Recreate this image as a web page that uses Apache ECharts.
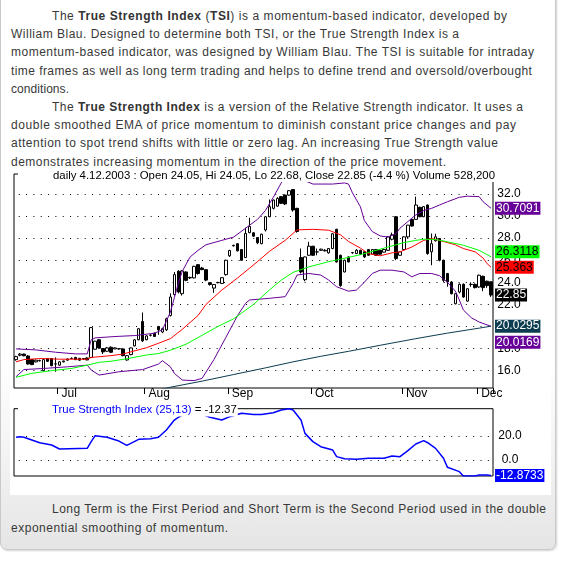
<!DOCTYPE html>
<html>
<head>
<meta charset="utf-8">
<script src="https://cdn.jsdelivr.net/npm/echarts@6.0.0/dist/echarts.min.js"></script>
<style>
  html, body { margin: 0; padding: 0; background: #fff; }
  body { width: 561px; height: 562px; position: relative; overflow: hidden; font-family: "Liberation Sans", Arial, sans-serif; }
  #box { position: absolute; left: 0; top: -10px; width: 554px; height: 558px; border: 1px solid #c9c9c9; border-radius: 0 0 7px 7px;
         background: linear-gradient(to bottom, #ffffff 0px, #ffffff 370px, #f2f2f2 470px, #e5e5e5 558px);
         box-shadow: 1px 1px 2px rgba(0,0,0,0.18); }
  #white { position: absolute; left: 10px; top: 164px; width: 541px; height: 331px; background: #fff; }
  .txt { position: absolute; left: 11px; font-size: 12px; line-height: 18.2px; color: #383838; white-space: nowrap; }
  .txt div.ind { padding-left: 41px; }
  .txt b { color: #333; }
  #chart { position: absolute; left: 0; top: 0; width: 561px; height: 562px; }
</style>
</head>
<body>
<div id="box"></div>
<div id="white"></div>
<div class="txt" style="top:6.9px">
  <div class="ind"><span data-end="507">The <b>True Strength Index</b> (<b>TSI</b>) is a momentum-based indicator, developed by</span></div>
  <div><span data-end="459">William Blau. Designed to determine both TSI, or the True Strength Index is a</span></div>
  <div><span data-end="534">momentum-based indicator, was designed by William Blau. The TSI is suitable for intraday</span></div>
  <div><span data-end="532">time frames as well as long term trading and helps to define trend and oversold/overbought</span></div>
  <div><span data-end="69">conditions.</span></div>
  <div class="ind"><span data-end="523">The <b>True Strength Index</b> is a version of the Relative Strength indicator. It uses a</span></div>
  <div><span data-end="516">double smoothed EMA of price momentum to diminish constant price changes and pay</span></div>
  <div><span data-end="498">attention to spot trend shifts with little or zero lag. An increasing True Strength value</span></div>
  <div><span data-end="446">demonstrates increasing momentum in the direction of the price movement.</span></div>
</div>
<div class="txt" style="top:500.1px; line-height:18.4px">
  <div class="ind"><span data-end="546">Long Term is the First Period and Short Term is the Second Period used in the double</span></div>
  <div><span data-end="228">exponential smoothing of momentum.</span></div>
</div>
<div id="chart"></div>
<script>
// fit paragraph lines to the reference line lengths
document.querySelectorAll('.txt span[data-end]').forEach(function (s) {
  const target = parseFloat(s.getAttribute('data-end'));
  const r = s.getBoundingClientRect();
  const n = s.textContent.length;
  if (n > 1) s.style.letterSpacing = ((target - r.right) / (n - 1)).toFixed(3) + 'px';
});

// ---------- data ----------
const monthTicks = ['Jan','Feb','Mar','Apr','May','Jun','Jul','Aug','Sep','Oct','Nov','Dec'];
const holidays = ['2003-07-04', '2003-09-01', '2003-11-27'];
const firstDay = '2003-06-16';
const lastDay = '2003-12-04';
const priceTicks = [16, 18, 20, 22, 24, 26, 28, 30, 32];
const tsiTicks = [0, 20];

// trading days
const dates = [];
(function () {
  let d = new Date(firstDay + 'T00:00:00Z');
  const end = new Date(lastDay + 'T00:00:00Z');
  while (d <= end) {
    const s = d.toISOString().slice(0, 10);
    const wd = d.getUTCDay();
    if (wd !== 0 && wd !== 6 && holidays.indexOf(s) < 0) dates.push(s);
    d = new Date(d.getTime() + 86400000);
  }
})();

// [open, close, low, high]
const candles = [
  [17.0,17.27,16.9,17.35],[17.4,17.5,17.3,17.6],[17.5,17.35,17.3,17.55],[17.33,16.6,16.55,17.4],[17.0,16.55,16.5,17.05],
  [16.8,16.95,16.75,17.0],[16.88,16.92,16.85,17.0],[16.0,17.0,15.95,17.05],[17.1,16.85,16.8,17.15],[17.1,16.45,16.4,17.15],
  [16.6,16.62,15.9,17.2],[16.5,16.8,16.45,16.85],[16.8,16.88,16.75,16.9],[16.95,17.05,16.9,17.1],[17.1,17.12,17.05,17.2],
  [17.2,17.0,16.95,17.25],[17.12,16.95,16.9,17.15],[17.05,17.1,16.97,17.12],[17.15,16.97,16.95,17.2],[17.2,19.9,17.15,19.95],
  [17.94,18.67,17.9,18.7],[18.8,18.06,18.0,18.85],[18.0,17.7,17.5,18.05],[17.76,18.06,17.7,18.15],[18.12,17.67,17.6,18.2],
  [17.97,18.06,17.95,18.1],[17.97,17.99,17.9,18.05],[17.97,17.36,17.3,18.0],[16.97,17.36,16.9,17.4],[17.45,18.06,17.4,18.1],
  [18.24,18.79,18.2,18.85],[18.8,19.8,18.75,19.85],[20.45,18.7,18.6,21.27],[18.8,19.15,18.75,19.2],[19.2,19.22,19.1,19.3],
  [19.4,19.1,19.05,19.45],[20.0,19.7,19.25,20.05],[19.5,19.8,19.4,19.9],[19.7,20.7,19.6,20.8],[21.0,22.67,20.9,23.0],
  [22.9,24.7,22.8,24.94],[25.0,23.12,23.0,25.1],[22.97,25.03,22.8,25.1],[24.94,24.18,24.1,25.0],[24.4,24.45,24.3,24.5],
  [24.4,25.45,24.35,25.5],[25.6,24.8,24.7,25.65],[25.3,25.15,25.1,25.4],[25.15,24.2,24.1,25.2],[23.97,23.8,23.7,24.0],
  [23.48,23.8,23.05,23.85],[23.97,23.99,23.9,24.05],[23.9,24.42,23.85,24.45],[24.7,26.0,24.6,26.05],[26.4,26.88,26.3,26.95],
  [27.3,27.35,27.25,27.4],[27.5,26.85,26.8,27.55],[26.97,26.0,25.95,27.0],[26.24,28.42,26.2,28.94],[28.5,29.06,28.45,29.85],
  [28.48,28.18,28.1,28.55],[28.06,27.58,27.45,28.1],[27.5,28.36,27.45,28.4],[28.74,29.94,28.6,30.0],[29.94,30.85,29.9,31.5],
  [30.7,31.45,30.6,31.5],[30.9,31.6,30.85,31.7],[31.76,31.15,31.1,31.8],[31.9,31.1,31.0,31.95],[31.9,32.3,31.85,32.35],
  [32.4,30.55,30.4,32.45],[30.7,28.6,28.5,30.75],[26.24,24.94,24.8,27.06],[24.24,26.3,24.1,26.35],[26.45,27.27,26.4,27.67],
  [27.27,26.45,26.4,27.3],[26.75,26.76,26.45,27.06],[26.9,27.0,26.85,27.05],[26.9,26.85,26.8,27.0],[26.67,27.06,26.6,27.1],
  [27.06,28.4,27.0,28.45],[28.8,25.85,25.8,28.85],[26.45,23.7,23.6,26.5],[24.94,26.0,24.9,26.05],[26.3,25.85,25.8,26.35],
  [26.67,26.7,26.6,26.75],[26.61,26.91,26.55,27.0],[26.9,26.55,26.5,26.95],[26.76,26.3,26.2,26.8],[26.97,26.45,26.4,27.0],
  [26.55,26.97,26.5,27.0],[26.97,26.45,26.4,27.0],[26.9,26.55,26.5,26.95],[26.73,26.97,26.7,27.06],[26.9,28.12,26.85,28.15],
  [27.9,28.3,27.8,28.5],[29.94,26.15,26.0,30.0],[26.45,26.76,26.4,26.8],[26.97,28.12,26.9,28.15],[28.12,29.18,28.0,29.2],
  [29.7,29.1,29.05,29.75],[29.7,31.0,29.65,31.76],[30.79,29.94,29.9,30.85],[29.94,30.85,29.9,30.9],[31.0,26.6,26.5,31.05],
  [26.76,27.5,25.55,28.42],[27.76,28.12,27.7,28.4],[27.97,26.0,25.9,28.0],[26.0,24.18,24.0,26.05],[24.8,24.03,23.6,24.85],
  [24.03,22.97,22.9,24.1],[22.06,22.97,22.0,23.0],[23.12,23.82,23.0,23.9],[23.82,22.67,22.6,23.9],[22.3,23.42,22.25,23.45],
  [23.8,23.82,23.6,24.0],[23.82,23.52,23.45,23.9],[23.58,24.64,23.5,24.7],[24.55,23.52,23.2,24.6],[24.1,23.7,23.5,24.15],
  [24.05,22.85,22.68,24.05]
];

// overlays: [dayIndex, value]
const bbUpper = [[0,17.97],[5,17.88],[10,17.67],[15,17.52],[18,17.52],[19,18.79],[20,18.97],[25,19.09],[30,19.18],[35,19.39],
  [37,19.7],[38,20.5],[39,21.3],[40,22.6],[41,23.9],[42,25.0],[44,26.3],[46,26.9],[48,27.4],[52,27.8],[55,28.1],[58,28.9],
  [61,29.7],[63,30.5],[65,31.7],[67,33.0],[69,34.1],[71,34.3],[73,33.2],[75,32.9],[80,32.9],[83,33.0],[84,32.9],[85,32.1],
  [87,30.85],[88,29.6],[90,28.6],[92,28.2],[94,28.1],[96,28.4],[97,28.9],[99,29.5],[101,30.1],[103,30.5],[105,30.7],
  [107,31.0],[109,31.3],[112,31.7],[114,31.8],[117,31.76],[118,31.3],[120,30.7091]];
const bbMiddle = [[0,16.8],[2,17.0],[6,17.1],[11,17.04],[18,17.04],[19,17.2],[24,17.36],[27,17.5],[29,17.7],[33,18.08],
  [36,18.48],[39,18.9],[42,19.74],[46,21.0],[48,22.0],[52,23.3],[56,24.4],[61,25.87],[64,26.8],[68,27.8],[71,28.75],
  [75,28.8],[79,28.72],[82,28.3],[84,27.7],[87,27.1],[89,26.6],[92,26.4],[95,26.67],[97,26.76],[100,27.2],[103,27.8],
  [105,27.97],[107,27.8],[111,27.4],[113,27.06],[116,26.76],[118,26.2],[119,25.7],[120,25.363]];
const bbLower = [[0,15.45],[2,16.1],[7,16.2],[13,16.35],[18,16.5],[19,16.06],[21,15.6],[26,15.9],[32,16.1],[36,16.6],
  [37,16.9],[39,16.35],[40,15.76],[42,15.15],[45,15.1],[47,15.3],[50,17.0],[53,19.0],[56,21.0],[58,22.1],[59,22.4],
  [64,22.55],[68,22.7],[70,23.9],[71,24.66],[74,24.8],[77,24.66],[79,24.2],[81,23.6],[84,23.2],[86,23.3],[88,24.0],
  [90,24.8],[92,25.1],[95,25.1],[98,24.94],[100,24.5],[102,24.8],[105,24.8],[107,24.6],[109,24.0],[111,23.2],[112,22.4],
  [113,21.5],[115,20.8],[117,20.4],[120,20.0169]];
const ma50 = [[0,15.4],[4,15.76],[9,16.0],[14,16.2],[18,16.5],[21,16.76],[24,16.85],[28,17.08],[33,17.42],[36,17.55],
  [39,17.85],[43,18.4],[47,19.2],[51,20.0],[55,20.7],[60,22.0],[64,23.3],[67,24.2],[70,24.9],[74,25.4],[79,25.87],
  [82,26.1],[87,26.5],[93,27.1],[96,27.4],[98,27.6],[101,27.8],[103,27.9],[106,27.88],[109,27.67],[113,27.36],
  [117,26.9],[120,26.3118]];
const ma200 = [[36,14.25],[39,14.5],[47,15.05],[55,15.65],[63,16.25],[70,16.8],[77,17.3],[84,17.75],[92,18.3],
  [101,18.9],[109,19.4],[117,19.85],[120,20.0295]];
const tsi = [[0,18.9],[1,19.4],[2,19.0],[4,16.7],[6,14.4],[9,12.5],[11,9.2],[18,9.7],[19,15.3],[20,20.3],[23,18.9],
  [26,15.8],[28,12.2],[31,17.2],[34,17.8],[36,18.9],[38,25.0],[40,33.3],[41,35.6],[43,39.0],[45,40.0],[47,38.0],
  [49,35.6],[52,33.3],[54,36.1],[57,38.9],[60,37.9],[62,37.9],[65,39.4],[67,41.7],[69,42.7],[70,41.7],[72,33.3],
  [73,22.2],[75,15.3],[77,11.1],[80,8.3],[81,2.8],[83,1.1],[86,0.6],[89,1.4],[93,1.4],[95,3.3],[97,2.8],[99,7.8],
  [101,13.3],[103,16.1],[104,14.4],[106,9.7],[108,1.4],[109,-6.1],[112,-9.7],[113,-13.3],[116,-13.3],[117,-12.5],
  [119,-12.5],[120,-12.8733]];
const chartTitle = 'daily 4.12.2003 : Open 24.05, Hi 24.05, Lo 22.68, Close 22.85 (-4.4 %) Volume 528,200';
const tsiTitle = 'True Strength Index (25,13)';
const tsiTitleValue = ' = -12.37';

// ---------- chart ----------
const lastIdx = dates.length - 1;
const isMonthStart = (i) => i > 0 && dates[i].slice(5, 7) !== dates[i - 1].slice(5, 7);
const FONT = '"Liberation Sans", Arial, sans-serif';

function endBox(value, bg, fg, dy) {
  return {
    symbol: 'rect', symbolSize: 0.01, silent: true, animation: false,
    data: [{ coord: [dates[lastIdx], value], value: value }],
    label: {
      show: true, position: 'right', distance: 4, formatter: String(value),
      backgroundColor: bg, color: fg, fontSize: 12, lineHeight: 12, fontFamily: FONT,
      padding: [1, 1, 0, 1], offset: [0, dy]
    }
  };
}
function lineSeries(name, data, color, dy, boxFg) {
  return {
    name: name, type: 'line', xAxisIndex: 0, yAxisIndex: 0, data: data,
    showSymbol: false, symbol: 'none', clip: true, silent: true,
    lineStyle: { color: color, width: 1 }, z: 3,
    markPoint: endBox(data[data.length - 1][1], color, boxFg, dy)
  };
}
const splitDots = { show: true, lineStyle: { color: '#000', width: 1, type: [1, 6.33], dashOffset: 2.6 } };

const chart = echarts.init(document.getElementById('chart'), null, { renderer: 'canvas' });
chart.setOption({
  animation: false,
  backgroundColor: 'transparent',
  textStyle: { fontFamily: FONT },
  title: [
    { text: chartTitle, left: 18, top: 169, backgroundColor: '#fff', padding: [0, 2, 0, 35],
      textStyle: { fontSize: 11.4, fontWeight: 'normal', color: '#000', lineHeight: 13, fontFamily: FONT } },
    { text: '{a|' + tsiTitle + '}{b|' + tsiTitleValue + '}', left: 18, top: 403.5, backgroundColor: '#fff', padding: [0, 1, 0, 34],
      textStyle: { fontSize: 11.4, fontWeight: 'normal', lineHeight: 13, fontFamily: FONT,
        rich: { a: { color: '#0000ff', fontSize: 11.4, fontWeight: 'normal', lineHeight: 13, fontFamily: FONT },
                b: { color: '#000', fontSize: 11.4, fontWeight: 'normal', lineHeight: 13, fontFamily: FONT } } } }
  ],
  grid: [
    { left: 14, top: 174, width: 479, height: 214, show: true, borderColor: '#000', borderWidth: 1, outerBoundsMode: 'none', containLabel: false },
    { left: 14, top: 408.7, width: 479, height: 67.3, show: true, borderColor: '#000', borderWidth: 1, outerBoundsMode: 'none', containLabel: false }
  ],
  xAxis: [
    { type: 'category', gridIndex: 0, data: dates, boundaryGap: true,
      axisLine: { show: false },
      axisTick: { show: true, interval: (i) => isMonthStart(i), length: 6, inside: false, lineStyle: { color: '#000', width: 1 } },
      axisLabel: { show: true, interval: (i) => isMonthStart(i), formatter: (v) => monthTicks[parseInt(v.slice(5, 7), 10) - 1],
        color: '#000', fontSize: 12, lineHeight: 12, align: 'left', margin: 0, padding: [0, 0, 0, 2], hideOverlap: false },
      splitLine: { show: false } },
    { type: 'category', gridIndex: 1, data: dates, boundaryGap: true, show: false }
  ],
  yAxis: [
    { type: 'value', gridIndex: 0, position: 'right', min: 14.43, max: 33.81, scale: true,
      axisLine: { show: false }, axisTick: { show: false, customValues: priceTicks },
      axisLabel: { show: true, customValues: priceTicks, formatter: (v) => v.toFixed(1), color: '#000', fontSize: 12, margin: 16, align: 'center' },
      splitLine: splitDots },
    { type: 'value', gridIndex: 1, position: 'right', min: -13.33, max: 42.75, scale: true,
      axisLine: { show: false }, axisTick: { show: false, customValues: tsiTicks },
      axisLabel: { show: true, customValues: tsiTicks, formatter: (v) => v.toFixed(1), color: '#000', fontSize: 12, margin: 17, align: 'center' },
      splitLine: splitDots }
  ],
  series: [
    { name: 'Price', type: 'candlestick', xAxisIndex: 0, yAxisIndex: 0, data: candles, barWidth: 3, silent: true, z: 2,
      itemStyle: { color: '#fff', color0: '#000', borderColor: '#000', borderColor0: '#000', borderWidth: 1 },
      markPoint: endBox(candles[lastIdx][1], '#000', '#fff', 0) },
    lineSeries('BB Upper', bbUpper, '#660099', 0, '#fff'),
    lineSeries('BB Lower', bbLower, '#660099', 16, '#fff'),
    lineSeries('BB Middle', bbMiddle, '#ff0000', 0, '#000'),
    lineSeries('MA 50', ma50, '#00ff00', -5, '#000'),
    lineSeries('MA 200', ma200, '#0b3c50', 0, '#fff'),
    { name: 'TSI', type: 'line', xAxisIndex: 1, yAxisIndex: 1, data: tsi, showSymbol: false, symbol: 'none', clip: true, silent: true,
      lineStyle: { color: '#0000ff', width: 1.5 },
      markPoint: endBox(tsi[tsi.length - 1][1], '#0000ff', '#fff', 0) }
  ]
});
</script>
</body>
</html>
